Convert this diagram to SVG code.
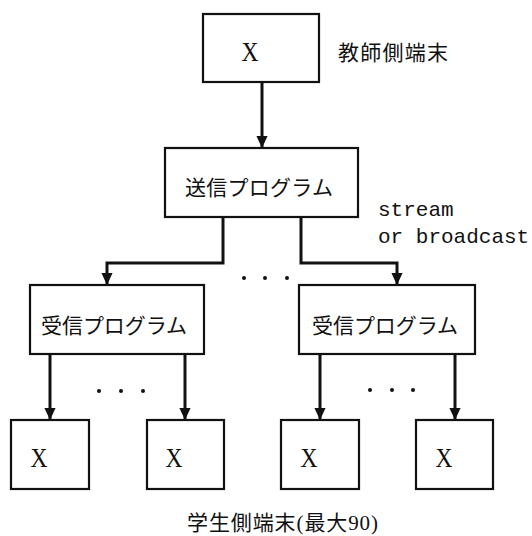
<svg xmlns="http://www.w3.org/2000/svg" width="532" height="536" viewBox="0 0 532 536">
<style>
.box{fill:#fff;stroke:#111;stroke-width:2.2}
.ln{fill:none;stroke:#111;stroke-width:3}
.jp{font-family:"Noto Sans CJK JP","Noto Sans CJK SC",sans-serif;font-size:21px;fill:#111}
.jps{font-family:"Liberation Serif","Noto Sans CJK JP",serif;font-size:21px;fill:#111}
.x{font-family:"Liberation Serif",serif;font-size:28px;fill:#111}
.mono{font-family:"Liberation Mono",monospace;font-size:21px;fill:#111}
.dot{fill:#111}
</style>
<defs>
<marker id="ah" markerWidth="12" markerHeight="15" refX="14" refY="7" orient="auto" markerUnits="userSpaceOnUse" viewBox="0 0 14 14">
<path d="M0,0.5 L14,7 L0,13.5 Z" fill="#111"/>
</marker>
</defs>
<rect width="532" height="536" fill="#fff"/>
<g id="connectors">
<path class="ln" d="M262,82 V148" marker-end="url(#ah)"/>
<path class="ln" d="M223,217 V263 H107 V285" marker-end="url(#ah)"/>
<path class="ln" d="M301,217 V263 H397 V285" marker-end="url(#ah)"/>
<path class="ln" d="M50,354 V420" marker-end="url(#ah)"/>
<path class="ln" d="M185,354 V420" marker-end="url(#ah)"/>
<path class="ln" d="M320,354 V420" marker-end="url(#ah)"/>
<path class="ln" d="M455,354 V420" marker-end="url(#ah)"/>
</g>
<g id="teacher">
<rect class="box" x="203" y="14" width="116" height="68"/>
<text class="x" x="250" y="61" text-anchor="middle" textLength="17" lengthAdjust="spacingAndGlyphs">X</text>
</g>
<g id="teacher-label">
<text class="jp" x="338" y="60" font-size="22" textLength="110">教師側端末</text>
</g>
<g id="sender">
<rect class="box" x="165" y="148" width="193" height="69"/>
<text class="jp" x="185" y="195" textLength="148">送信プログラム</text>
</g>
<g id="stream-label">
<text class="mono" x="378" y="216">stream</text>
<text class="mono" x="378" y="243">or broadcast</text>
</g>
<g id="dots-top">
<circle class="dot" cx="244" cy="278" r="2"/>
<circle class="dot" cx="265" cy="278" r="2"/>
<circle class="dot" cx="287" cy="278" r="2"/>
</g>
<g id="receiver-left">
<rect class="box" x="30" y="285" width="174" height="69"/>
<text class="jp" x="41" y="333" textLength="146">受信プログラム</text>
</g>
<g id="receiver-right">
<rect class="box" x="299" y="285" width="176" height="69"/>
<text class="jp" x="312" y="333" textLength="146">受信プログラム</text>
</g>
<g id="dots-left">
<circle class="dot" cx="99" cy="391" r="2"/>
<circle class="dot" cx="121" cy="391" r="2"/>
<circle class="dot" cx="143" cy="391" r="2"/>
</g>
<g id="dots-right">
<circle class="dot" cx="370" cy="390" r="2"/>
<circle class="dot" cx="392" cy="390" r="2"/>
<circle class="dot" cx="413" cy="390" r="2"/>
</g>
<g id="student1">
<rect class="box" x="11" y="420" width="78" height="69"/>
<text class="x" x="39" y="467" text-anchor="middle" textLength="17" lengthAdjust="spacingAndGlyphs">X</text>
</g>
<g id="student2">
<rect class="box" x="147" y="420" width="77" height="69"/>
<text class="x" x="174" y="467" text-anchor="middle" textLength="17" lengthAdjust="spacingAndGlyphs">X</text>
</g>
<g id="student3">
<rect class="box" x="281" y="420" width="78" height="69"/>
<text class="x" x="309" y="467" text-anchor="middle" textLength="17" lengthAdjust="spacingAndGlyphs">X</text>
</g>
<g id="student4">
<rect class="box" x="416" y="420" width="77" height="69"/>
<text class="x" x="444" y="467" text-anchor="middle" textLength="17" lengthAdjust="spacingAndGlyphs">X</text>
</g>
<g id="student-label">
<text class="jps" x="187" y="530" textLength="191">学生側端末(最大90)</text>
</g>
</svg>
